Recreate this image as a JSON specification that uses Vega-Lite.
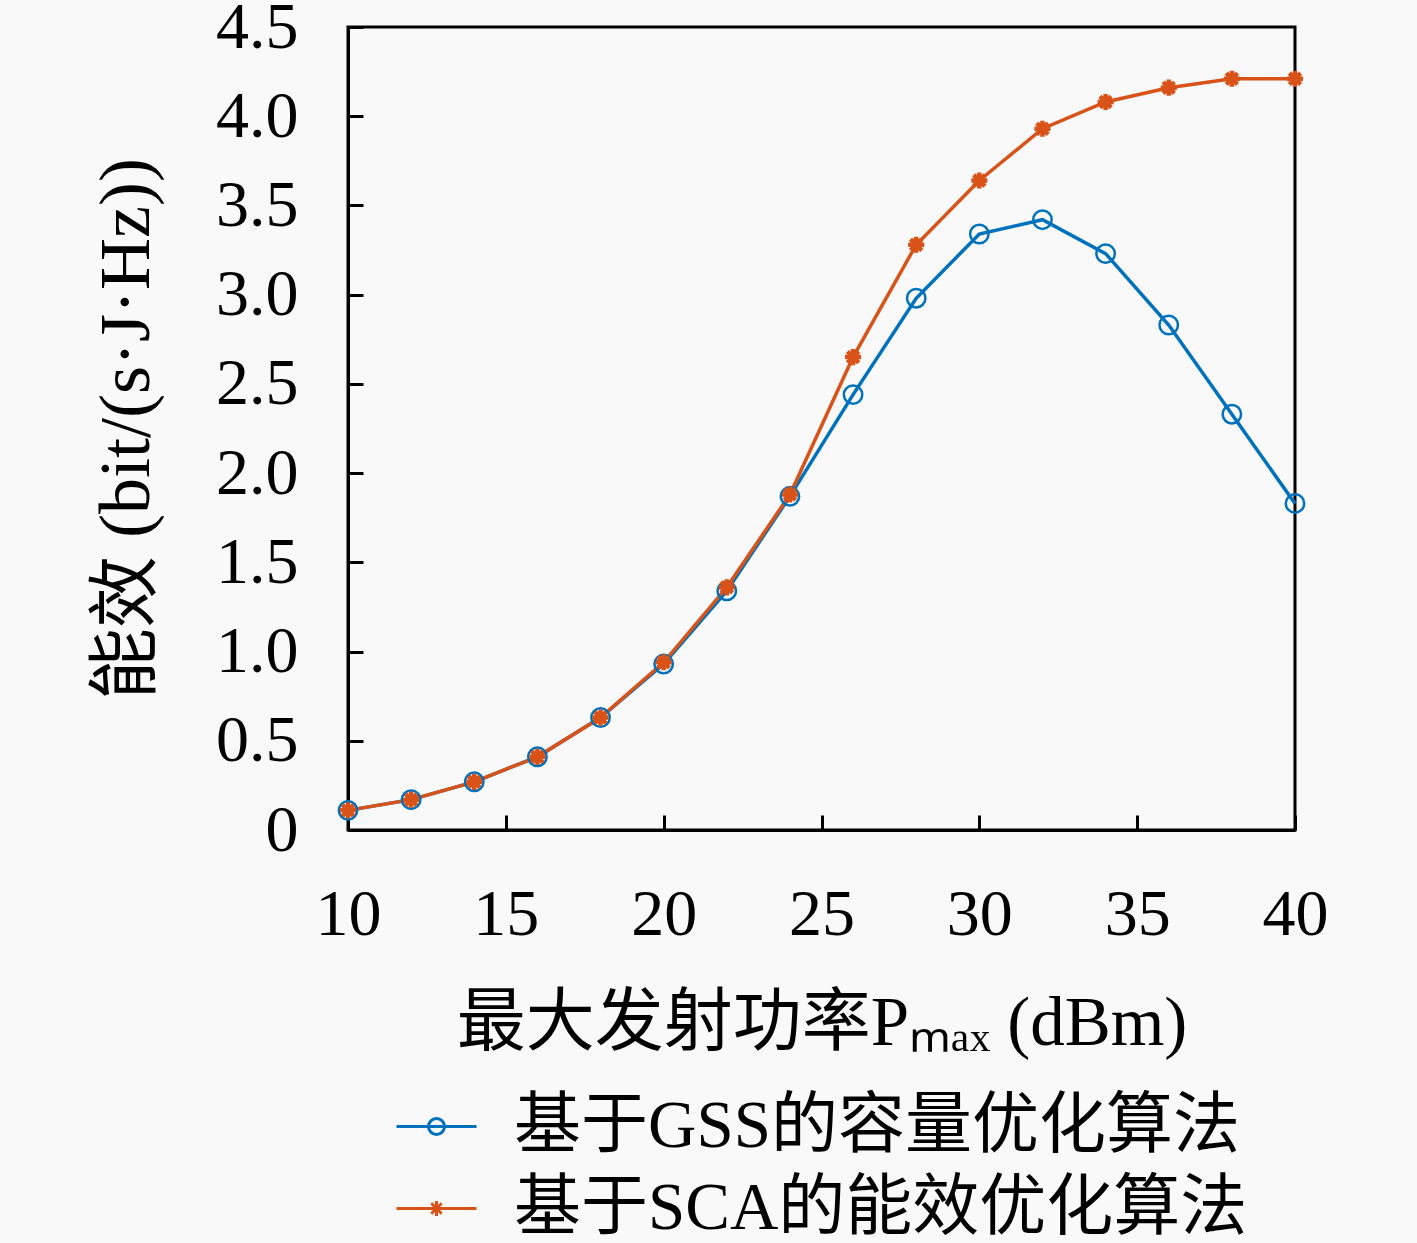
{
  "$schema": "https://vega.github.io/schema/vega-lite/v6.json",
  "width": 947,
  "height": 803,
  "autosize": "none",
  "padding": {"left": 348, "top": 27, "right": 122, "bottom": 413},
  "background": "#f9f9f9",
  "data": {
    "values": [
      {"P": 10, "ee": 0.11, "alg": "基于GSS的容量优化算法"},
      {"P": 12, "ee": 0.17, "alg": "基于GSS的容量优化算法"},
      {"P": 14, "ee": 0.27, "alg": "基于GSS的容量优化算法"},
      {"P": 16, "ee": 0.41, "alg": "基于GSS的容量优化算法"},
      {"P": 18, "ee": 0.63, "alg": "基于GSS的容量优化算法"},
      {"P": 20, "ee": 0.93, "alg": "基于GSS的容量优化算法"},
      {"P": 22, "ee": 1.34, "alg": "基于GSS的容量优化算法"},
      {"P": 24, "ee": 1.87, "alg": "基于GSS的容量优化算法"},
      {"P": 26, "ee": 2.44, "alg": "基于GSS的容量优化算法"},
      {"P": 28, "ee": 2.98, "alg": "基于GSS的容量优化算法"},
      {"P": 30, "ee": 3.34, "alg": "基于GSS的容量优化算法"},
      {"P": 32, "ee": 3.42, "alg": "基于GSS的容量优化算法"},
      {"P": 34, "ee": 3.23, "alg": "基于GSS的容量优化算法"},
      {"P": 36, "ee": 2.83, "alg": "基于GSS的容量优化算法"},
      {"P": 38, "ee": 2.33, "alg": "基于GSS的容量优化算法"},
      {"P": 40, "ee": 1.83, "alg": "基于GSS的容量优化算法"},
      {"P": 10, "ee": 0.11, "alg": "基于SCA的能效优化算法"},
      {"P": 12, "ee": 0.17, "alg": "基于SCA的能效优化算法"},
      {"P": 14, "ee": 0.27, "alg": "基于SCA的能效优化算法"},
      {"P": 16, "ee": 0.41, "alg": "基于SCA的能效优化算法"},
      {"P": 18, "ee": 0.63, "alg": "基于SCA的能效优化算法"},
      {"P": 20, "ee": 0.94, "alg": "基于SCA的能效优化算法"},
      {"P": 22, "ee": 1.36, "alg": "基于SCA的能效优化算法"},
      {"P": 24, "ee": 1.88, "alg": "基于SCA的能效优化算法"},
      {"P": 26, "ee": 2.65, "alg": "基于SCA的能效优化算法"},
      {"P": 28, "ee": 3.28, "alg": "基于SCA的能效优化算法"},
      {"P": 30, "ee": 3.64, "alg": "基于SCA的能效优化算法"},
      {"P": 32, "ee": 3.93, "alg": "基于SCA的能效优化算法"},
      {"P": 34, "ee": 4.08, "alg": "基于SCA的能效优化算法"},
      {"P": 36, "ee": 4.16, "alg": "基于SCA的能效优化算法"},
      {"P": 38, "ee": 4.21, "alg": "基于SCA的能效优化算法"},
      {"P": 40, "ee": 4.21, "alg": "基于SCA的能效优化算法"}
    ]
  },
  "encoding": {
    "x": {
      "field": "P",
      "type": "quantitative",
      "scale": {"domain": [10, 40], "nice": false},
      "axis": {
        "values": [10, 15, 20, 25, 30, 35, 40],
        "labelFlush": false,
        "labelPadding": 67,
        "title": "最大发射功率Pₘₐₓ (dBm)",
        "titlePadding": 42,
        "titleFontSize": 69
      }
    },
    "y": {
      "field": "ee",
      "type": "quantitative",
      "scale": {"domain": [0, 4.5], "nice": false},
      "axis": {
        "values": [0, 0.5, 1, 1.5, 2, 2.5, 3, 3.5, 4, 4.5],
        "labelExpr": "datum.value == 0 ? '0' : format(datum.value, '.1f')",
        "labelPadding": 65,
        "title": "能效 (bit/(s·J·Hz))",
        "titlePadding": 52,
        "titleFontSize": 72
      }
    },
    "color": {
      "field": "alg",
      "type": "nominal",
      "scale": {
        "domain": ["基于GSS的容量优化算法", "基于SCA的能效优化算法"],
        "range": ["#0072BD", "#D95319"]
      },
      "legend": {
        "title": null,
        "orient": "none",
        "legendX": 47,
        "legendY": 1058,
        "padding": 0,
        "symbolSize": 6400,
        "symbolStrokeWidth": 3,
        "labelOffset": 36,
        "labelFontSize": 67,
        "rowPadding": 7,
        "encode": {
          "symbols": {
            "update": {
              "shape": {"signal": "datum.value == '基于GSS的容量优化算法' ? 'M-1,0L1,0M-0.2,0A0.2,0.2 0 1,0 0.2,0A0.2,0.2 0 1,0 -0.2,0' : 'M-1,0L1,0M-0.19,0L0.19,0M0,-0.19L0,0.19M-0.13,-0.13L0.13,0.13M-0.13,0.13L0.13,-0.13'"},
              "fill": {"value": "transparent"}
            }
          }
        }
      }
    }
  },
  "layer": [
    {
      "mark": {"type": "line", "strokeWidth": 3.5}
    },
    {
      "transform": [{"filter": "datum.alg == '基于GSS的容量优化算法'"}],
      "mark": {"type": "point", "shape": "circle", "filled": false, "strokeWidth": 2.5, "size": 340, "opacity": 1}
    },
    {
      "transform": [{"filter": "datum.alg == '基于SCA的能效优化算法'"}],
      "mark": {"type": "point", "shape": "M-1,0L1,0M0,-1L0,1M-0.7,-0.7L0.7,0.7M-0.7,0.7L0.7,-0.7", "filled": false, "strokeWidth": 4.5, "size": 260, "opacity": 1}
    }
  ],
  "config": {
    "font": "Liberation Serif, Noto Sans CJK SC",
    "view": {"stroke": "black", "strokeWidth": 3},
    "axis": {
      "grid": false,
      "domainColor": "black",
      "domainWidth": 3,
      "tickColor": "black",
      "tickWidth": 3,
      "tickSize": -15,
      "labelFont": "Liberation Serif, Noto Sans CJK SC",
      "labelFontSize": 66,
      "labelColor": "black",
      "titleFont": "Liberation Serif, Noto Sans CJK SC",
      "titleFontSize": 68,
      "titleFontWeight": "normal",
      "titleColor": "black"
    },
    "legend": {
      "labelFont": "Liberation Serif, Noto Sans CJK SC",
      "labelColor": "black",
      "labelLimit": 1000
    }
  }
}
